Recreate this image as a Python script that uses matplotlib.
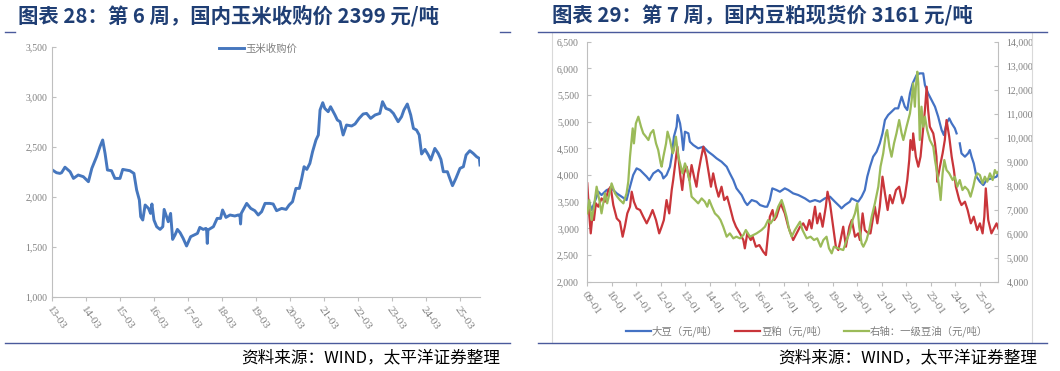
import numpy as np
import matplotlib
matplotlib.use("Agg")
import matplotlib.pyplot as plt
from matplotlib.lines import Line2D
from matplotlib.ticker import FuncFormatter

plt.rcParams['font.family'] = ['Noto Sans CJK SC', 'DejaVu Sans']

# ---- data: chart 28, corn purchase price (yuan/t) ----
corn_t = [2013.17, 2013.29, 2013.39, 2013.44, 2013.54, 2013.69, 2013.79, 2013.93, 2014.08, 2014.23,
          2014.33, 2014.47, 2014.57, 2014.65, 2014.72, 2014.79, 2014.91, 2015.01, 2015.16, 2015.24,
          2015.45, 2015.57, 2015.65, 2015.73, 2015.77, 2015.83, 2015.90, 2016.00, 2016.06, 2016.10,
          2016.16, 2016.24, 2016.34, 2016.42, 2016.46, 2016.53, 2016.58, 2016.65, 2016.71, 2016.78,
          2016.85, 2016.93, 2017.02, 2017.12, 2017.24, 2017.34, 2017.44, 2017.51, 2017.61, 2017.69,
          2017.71, 2017.73, 2017.75, 2017.91, 2018.02, 2018.12, 2018.18, 2018.28, 2018.40, 2018.54,
          2018.64, 2018.69, 2018.71, 2018.73, 2018.89, 2019.01, 2019.13, 2019.23, 2019.33, 2019.43,
          2019.57, 2019.67, 2019.77, 2019.92, 2020.05, 2020.14, 2020.24, 2020.34, 2020.44, 2020.51,
          2020.58, 2020.66, 2020.75, 2020.83, 2020.93, 2021.00, 2021.05, 2021.13, 2021.19, 2021.29,
          2021.36, 2021.49, 2021.56, 2021.64, 2021.73, 2021.83, 2021.98, 2022.08, 2022.20, 2022.32,
          2022.42, 2022.54, 2022.67, 2022.81, 2022.89, 2022.99, 2023.11, 2023.21, 2023.35, 2023.45,
          2023.52, 2023.62, 2023.72, 2023.80, 2023.89, 2023.97, 2024.04, 2024.14, 2024.24, 2024.31,
          2024.43, 2024.53, 2024.61, 2024.68, 2024.80, 2024.87, 2024.95, 2025.05, 2025.17, 2025.27,
          2025.35, 2025.46, 2025.56, 2025.66, 2025.74, 2025.76]
corn_price = [2267, 2240, 2233, 2240, 2295, 2250, 2183, 2217, 2200, 2150,
              2283, 2400, 2500, 2567, 2433, 2267, 2260, 2183, 2183, 2273,
              2260, 2233, 2067, 1967, 1800, 1767, 1917, 1883, 1833, 1927,
              1767, 1700, 1673, 1700, 1873, 1800, 1750, 1833, 1573, 1617,
              1673, 1640, 1583, 1507, 1600, 1617, 1633, 1693, 1673, 1683,
              1673, 1533, 1667, 1700, 1783, 1783, 1867, 1793, 1817, 1807,
              1817, 1817, 1727, 1833, 1933, 1883, 1860, 1817, 1850, 1933,
              1933, 1927, 1860, 1883, 1873, 1917, 1950, 2083, 2083, 2183,
              2300, 2273, 2333, 2450, 2567, 2617, 2867, 2940, 2883, 2850,
              2900, 2817, 2767, 2750, 2617, 2717, 2707, 2727, 2783, 2827,
              2833, 2783, 2817, 2833, 2950, 2883, 2867, 2833, 2750, 2800,
              2867, 2927, 2817, 2683, 2667, 2617, 2427, 2473, 2417, 2367,
              2483, 2433, 2373, 2250, 2250, 2183, 2110, 2183, 2283, 2300,
              2417, 2460, 2433, 2400, 2383, 2317]
corn_ticks = ['13-03', '14-03', '15-03', '16-03', '17-03', '18-03', '19-03',
              '20-03', '21-03', '22-03', '23-03', '24-03', '25-03']

# ---- data: chart 29, soybean / soybean meal (left) and soybean oil (right) ----
soy_t = [2009.00, 2009.18, 2009.45, 2009.58, 2009.79, 2009.99, 2010.20, 2010.40, 2010.60, 2010.74,
         2010.87, 2011.01, 2011.15, 2011.42, 2011.53, 2011.69, 2011.89, 2012.03, 2012.10, 2012.23,
         2012.37, 2012.44, 2012.53, 2012.64, 2012.68, 2012.78, 2012.84, 2012.91, 2012.98, 2013.12,
         2013.18, 2013.32, 2013.52, 2013.73, 2013.93, 2014.11, 2014.27, 2014.47, 2014.68, 2014.81,
         2014.95, 2015.08, 2015.29, 2015.42, 2015.52, 2015.70, 2015.90, 2016.04, 2016.24, 2016.33,
         2016.44, 2016.54, 2016.71, 2016.85, 2017.05, 2017.19, 2017.39, 2017.60, 2017.87, 2018.07,
         2018.28, 2018.48, 2018.68, 2018.89, 2019.09, 2019.30, 2019.36, 2019.50, 2019.70, 2019.77,
         2019.91, 2020.04, 2020.18, 2020.31, 2020.41, 2020.52, 2020.65, 2020.79, 2020.92, 2021.03,
         2021.13, 2021.26, 2021.40, 2021.54, 2021.67, 2021.81, 2021.94, 2022.04, 2022.15, 2022.26,
         2022.42, 2022.55, 2022.69, 2022.76, 2022.89, 2023.03, 2023.17, 2023.30, 2023.44, 2023.53,
         2023.64, 2023.75, 2023.85, 2023.98, 2024.05, 2024.11, 2024.18, 2024.25, 2024.39, 2024.52,
         2024.59, 2024.66, 2024.75, 2024.86, 2025.00, 2025.14, 2025.27, 2025.47, 2025.68, 2025.75]
soy_price = [3594, 3344, 3687, 3625, 3719, 3750, 3656, 3594, 3531, 3781,
             4000, 4125, 4094, 3969, 3906, 4031, 4094, 4031, 3937, 4000,
             4156, 4344, 4719, 4906, 5125, 4969, 4781, 4469, 4812, 4781,
             4625, 4562, 4500, 4531, 4437, 4375, 4312, 4250, 4156, 4031,
             3906, 3750, 3625, 3500, 3437, 3531, 3500, 3437, 3406, 3406,
             3531, 3750, 3719, 3687, 3750, 3719, 3656, 3625, 3562, 3500,
             3531, 3500, 3562, 3594, 3500, 3406, 3375, 3437, 3500, 3562,
             3531, 3500, 3594, 3719, 3969, 4156, 4344, 4437, 4594, 4781,
             5031, 5125, 5187, 5250, 5250, 5469, 5281, 5219, 5531, 5719,
             5875, 5906, 5906, 5687, 5531, 5406, 5281, 5094, 4844, 4750,
             4969, 5062, 4969, 4875, 4781, np.nan, 4594, 4406, 4344, 4406,
             4469, 4344, 4219, 3969, 3875, 3812, 3906, 3937, 3969, 4031]

meal_t = [2009.00, 2009.08, 2009.14, 2009.22, 2009.27, 2009.35, 2009.45, 2009.58, 2009.72, 2009.86,
          2009.95, 2010.06, 2010.20, 2010.33, 2010.44, 2010.53, 2010.63, 2010.74, 2010.81, 2010.90,
          2011.01, 2011.15, 2011.28, 2011.42, 2011.55, 2011.66, 2011.80, 2011.93, 2012.03, 2012.12,
          2012.23, 2012.34, 2012.44, 2012.50, 2012.60, 2012.67, 2012.78, 2012.87, 2012.94, 2013.05,
          2013.16, 2013.25, 2013.35, 2013.45, 2013.52, 2013.62, 2013.73, 2013.84, 2013.93, 2014.04,
          2014.13, 2014.24, 2014.35, 2014.47, 2014.58, 2014.70, 2014.81, 2014.95, 2015.06, 2015.22,
          2015.36, 2015.42, 2015.52, 2015.66, 2015.74, 2015.87, 2016.01, 2016.17, 2016.28, 2016.37,
          2016.44, 2016.55, 2016.62, 2016.71, 2016.88, 2016.99, 2017.05, 2017.19, 2017.39, 2017.53,
          2017.67, 2017.80, 2017.94, 2018.05, 2018.14, 2018.28, 2018.37, 2018.48, 2018.59, 2018.72,
          2018.79, 2018.89, 2019.02, 2019.13, 2019.23, 2019.32, 2019.43, 2019.54, 2019.68, 2019.78,
          2019.91, 2020.04, 2020.11, 2020.22, 2020.31, 2020.45, 2020.54, 2020.72, 2020.82, 2020.92,
          2021.03, 2021.13, 2021.24, 2021.33, 2021.44, 2021.58, 2021.71, 2021.85, 2021.94, 2022.04,
          2022.12, 2022.17, 2022.26, 2022.28, 2022.39, 2022.49, 2022.58, 2022.76, 2022.83, 2022.89,
          2022.96, 2023.10, 2023.17, 2023.23, 2023.26, 2023.37, 2023.48, 2023.57, 2023.64, 2023.75,
          2023.85, 2023.94, 2024.02, 2024.16, 2024.25, 2024.39, 2024.50, 2024.63, 2024.75, 2024.89,
          2025.00, 2025.11, 2025.18, 2025.24, 2025.30, 2025.34, 2025.47, 2025.61, 2025.68, 2025.75]
meal_price = [3844, 3250, 2906, 3281, 3156, 3469, 3406, 3562, 3500, 3719,
              3781, 3437, 3187, 3125, 2844, 3031, 3281, 3406, 3687, 3500,
              3375, 3344, 3219, 3094, 3219, 3344, 3156, 2906, 3031, 3156,
              3531, 3281, 3719, 3906, 4281, 4531, 4031, 3719, 4031, 4156,
              3906, 4187, 3969, 3781, 4031, 4281, 4531, 4344, 4094, 3781,
              4031, 3781, 3594, 3781, 3531, 3594, 3406, 3156, 3031, 2906,
              2781, 2625, 2906, 2781, 2844, 2656, 2687, 2562, 2500, 2906,
              3219, 3344, 3156, 3219, 3469, 3344, 3281, 3031, 2781, 2906,
              3031, 3094, 2969, 3156, 3000, 3406, 3094, 3281, 3031, 3406,
              3687, 3469, 3031, 2656, 2594, 2781, 3031, 2656, 3031, 3156,
              2844, 2906, 2781, 3281, 2969, 2906, 2906, 3406, 3094, 3406,
              3969, 3656, 3344, 3625, 3469, 3719, 3781, 3469, 3594, 3906,
              4281, 4656, 4469, 4781, 4344, 4156, 4344, 5219, 5656, 5219,
              4906, 4781, 4594, 4344, 3875, 4156, 4406, 4656, 5031, 4719,
              4344, 4094, 3781, 3531, 3437, 3500, 3344, 3094, 3219, 2969,
              3094, 2906, 3219, 3750, 3406, 3156, 2906, 3031, 3094, 3000]

oil_t = [2009.00, 2009.08, 2009.18, 2009.27, 2009.38, 2009.49, 2009.58, 2009.72, 2009.81, 2009.92,
         2009.99, 2010.13, 2010.22, 2010.33, 2010.47, 2010.60, 2010.67, 2010.74, 2010.85, 2010.90,
         2010.98, 2011.08, 2011.19, 2011.28, 2011.39, 2011.49, 2011.58, 2011.69, 2011.80, 2011.89,
         2011.99, 2012.03, 2012.10, 2012.21, 2012.27, 2012.37, 2012.48, 2012.53, 2012.61, 2012.71,
         2012.78, 2012.88, 2012.98, 2013.07, 2013.16, 2013.25, 2013.39, 2013.52, 2013.66, 2013.79,
         2013.89, 2013.97, 2014.08, 2014.20, 2014.34, 2014.43, 2014.54, 2014.68, 2014.81, 2014.95,
         2015.08, 2015.22, 2015.36, 2015.46, 2015.63, 2015.76, 2015.90, 2016.10, 2016.24, 2016.37,
         2016.47, 2016.65, 2016.78, 2016.92, 2017.01, 2017.12, 2017.23, 2017.33, 2017.46, 2017.67,
         2017.77, 2017.94, 2018.10, 2018.24, 2018.37, 2018.51, 2018.62, 2018.75, 2018.85, 2018.96,
         2019.05, 2019.23, 2019.43, 2019.57, 2019.68, 2019.81, 2019.91, 2020.00, 2020.08, 2020.18,
         2020.25, 2020.38, 2020.49, 2020.59, 2020.72, 2020.86, 2020.95, 2021.06, 2021.17, 2021.22,
         2021.31, 2021.40, 2021.50, 2021.60, 2021.71, 2021.81, 2021.88, 2022.01, 2022.15, 2022.22,
         2022.28, 2022.35, 2022.39, 2022.45, 2022.49, 2022.55, 2022.62, 2022.69, 2022.76, 2022.85,
         2022.96, 2023.10, 2023.17, 2023.26, 2023.34, 2023.40, 2023.48, 2023.55, 2023.64, 2023.75,
         2023.89, 2023.98, 2024.08, 2024.18, 2024.29, 2024.39, 2024.52, 2024.62, 2024.73, 2024.82,
         2024.90, 2025.00, 2025.11, 2025.20, 2025.30, 2025.41, 2025.52, 2025.61, 2025.68, 2025.75]
oil_price = [6847, 7403, 6569, 7125, 7958, 7403, 6847, 7681, 7264, 7750,
             8097, 7681, 7542, 7403, 7264, 7681, 8167, 9208, 10389, 9764,
             10597, 10875, 10458, 10181, 10042, 9903, 10181, 10319, 9764, 9486,
             8931, 8792, 9208, 9764, 10250, 9903, 9347, 9486, 10042, 9208,
             8931, 8514, 8931, 8653, 8236, 7542, 7403, 7264, 7472, 7333,
             7125, 7403, 7125, 6847, 6708, 6569, 6292, 5875, 6014, 5806,
             5875, 5806, 5944, 6153, 5875, 5944, 6014, 6153, 6292, 6569,
             6431, 6708, 7125, 7403, 7125, 6708, 6153, 5875, 6153, 6500,
             6153, 5806, 5875, 5736, 5806, 5458, 5736, 5875, 5389, 5181,
             5458, 5389, 5319, 5736, 6014, 6569, 6847, 7264, 6292, 5597,
             5458, 5736, 6153, 6708, 7264, 7958, 8792, 9347, 10181, 10319,
             9625, 9208, 9764, 10181, 10736, 10181, 9903, 10458, 11014, 11569,
             12264, 11292, 12125, 12750, 12264, 9903, 11292, 10458, 10875, 10319,
             9903, 9625, 9069, 8514, 7958, 7403, 8514, 9069, 8653, 8514,
             8236, 8375, 7958, 8236, 7819, 7958, 7819, 7542, 7958, 8375,
             8514, 8444, 8097, 8375, 8167, 8514, 8236, 8653, 8514, 8583]
soy_ticks = ['09-01', '10-01', '11-01', '12-01', '13-01', '14-01', '15-01', '16-01', '17-01',
             '18-01', '19-01', '20-01', '21-01', '22-01', '23-01', '24-01', '25-01']


def tick_pos(labels):
    return [2000 + int(s[:2]) + (int(s[3:]) - 1) / 12 for s in labels]


navy = '#1F3E74'
rule = '#4A5A9C'
grey_txt = '#7F7F7F'
axis_c = '#BFBFBF'
num_font = 'Liberation Serif'
thousands = FuncFormatter(lambda v, p: f'{v:,.0f}')

fig = plt.figure(figsize=(10.6, 3.71), dpi=100)

# titles, rules, source lines
fig.text(18 / 1060, 1 - 16 / 371, '图表 28：第 6 周，国内玉米收购价 2399 元/吨', color=navy,
         fontsize=14.7, fontweight='bold', va='center', ha='left')
fig.text(552 / 1060, 1 - 16 / 371, '图表 29：第 7 周，国内豆粕现货价 3161 元/吨', color=navy,
         fontsize=14.7, fontweight='bold', va='center', ha='left')
for x0, x1 in [(5, 15), (500, 510), (538, 1047)]:
    fig.add_artist(Line2D([x0 / 1060, x1 / 1060], [1 - 32 / 371] * 2, color=rule, lw=1.0))
for x0, x1 in [(5, 510), (538, 1047)]:
    fig.add_artist(Line2D([x0 / 1060, x1 / 1060], [1 - 343 / 371] * 2, color=rule, lw=1.0))
fig.text(500 / 1060, 1 - 358 / 371, '资料来源：WIND，太平洋证券整理', fontsize=12, style='italic',
         ha='right', va='center', color='black')
fig.text(1037 / 1060, 1 - 358 / 371, '资料来源：WIND，太平洋证券整理', fontsize=12, style='italic',
         ha='right', va='center', color='black')

# frame of right chart
fig.add_artist(plt.Rectangle((552 / 1060, 1 - 343 / 371), 480 / 1060, 311 / 371, fill=False,
                             edgecolor='#D9D9D9', lw=0.8, transform=fig.transFigure))


def style_axis(ax, xt, xl):
    for s in ['top', 'right']:
        ax.spines[s].set_visible(False)
    for s in ['left', 'bottom']:
        ax.spines[s].set_color(axis_c)
    ax.set_xticks(xt)
    ax.set_xticklabels(xl, rotation=-55, ha='left', va='top', rotation_mode='anchor',
                       fontsize=8, color=grey_txt, family=num_font)
    ax.tick_params(axis='x', direction='out', length=3, color=axis_c, pad=3)
    ax.tick_params(axis='y', direction='in', length=3, color=axis_c, labelsize=7,
                   labelcolor=grey_txt)
    ax.yaxis.set_major_formatter(thousands)
    for lb in ax.get_yticklabels():
        lb.set_family(num_font)


# ---- left chart ----
ax1 = fig.add_axes([52.3 / 1060, 1 - 296.7 / 371, 427.7 / 1060, 250 / 371])
ax1.plot(corn_t, corn_price, color='#4677BE', lw=2.1, label='玉米收购价')
ax1.set_xlim(corn_t[0], corn_t[-1])
ax1.set_ylim(1000, 3500)
ax1.set_yticks(np.arange(1000, 3501, 500))
style_axis(ax1, tick_pos(corn_ticks), corn_ticks)
ax1.legend(loc='center', bbox_to_anchor=(258 / 1060, 1 - 49 / 371), bbox_transform=fig.transFigure,
           frameon=False, fontsize=7.5, labelcolor=grey_txt, handlelength=2.4, handletextpad=0.1)

# ---- right chart ----
ax2 = fig.add_axes([587.3 / 1060, 1 - 281.7 / 371, 411 / 1060, 240 / 371])
ax3 = ax2.twinx()
l1, = ax2.plot(soy_t, soy_price, color='#4472C4', lw=1.6, label='大豆（元/吨）')
l2, = ax2.plot(meal_t, meal_price, color='#C9353A', lw=1.6, label='豆粕（元/吨）')
l3, = ax3.plot(oil_t, oil_price, color='#9BBB59', lw=1.6, label='右轴：一级豆油（元/吨）')
ax2.set_xlim(2009.0, 2025.75)
ax2.set_ylim(2000, 6500)
ax2.set_yticks(np.arange(2000, 6501, 500))
style_axis(ax2, tick_pos(soy_ticks), soy_ticks)
ax3.set_ylim(4000, 14000)
ax3.set_yticks(np.arange(4000, 14001, 1000))
for s in ['top', 'left', 'bottom']:
    ax3.spines[s].set_visible(False)
ax3.spines['right'].set_color(axis_c)
ax3.tick_params(axis='y', direction='in', length=3, color=axis_c, labelsize=7,
                labelcolor=grey_txt, pad=6)
ax3.yaxis.set_major_formatter(thousands)
for lb in ax3.get_yticklabels():
    lb.set_family(num_font)
ax2.tick_params(axis='y', pad=6)
fig.legend(handles=[l1, l2, l3], loc='center', bbox_to_anchor=(807 / 1060, 1 - 331 / 371),
           ncol=3, frameon=False, fontsize=7.5, labelcolor=grey_txt, handlelength=2.4,
           handletextpad=0.1, columnspacing=1.6)

fig.savefig('out.png', dpi=100)
